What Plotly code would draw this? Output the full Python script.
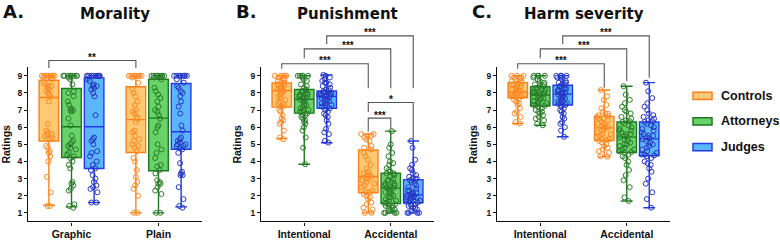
import plotly.graph_objects as go

# ---------------- data ----------------
GROUPS = ["Controls", "Attorneys", "Judges"]
PANEL_TITLES = ["Morality", "Punishment", "Harm severity"]
PANEL_LETTERS = ["A.", "B.", "C."]
CATS_MORALITY = ["Graphic", "Plain"]
CATS_PUNISHMENT = ["Intentional", "Accidental"]
CATS_HARM = ["Intentional", "Accidental"]
Y_TICKS = [1, 2, 3, 4, 5, 6, 7, 8, 9]

# box statistics, indexed [category][group]
MOR_MIN = [[1.44, 1.35, 1.6], [1.0, 1.0, 1.35]]
MOR_Q1 = [[5.19, 4.23, 3.59], [4.52, 3.46, 4.71]]
MOR_MED = [[7.73, 6.03, 6.03], [6.44, 6.53, 5.73]]
MOR_Q3 = [[8.74, 8.26, 8.88], [8.36, 8.8, 8.55]]
MOR_MAX = [[9.0, 9.0, 9.0], [9.0, 9.0, 9.0]]

PUN_MIN = [[5.34, 3.84, 5.09], [1.0, 1.0, 1.0]]
PUN_Q1 = [[7.17, 6.82, 7.11], [2.17, 1.54, 1.59]]
PUN_MED = [[8.14, 7.63, 7.8], [3.12, 2.44, 2.05]]
PUN_Q3 = [[8.59, 8.2, 8.11], [4.67, 3.31, 2.94]]
PUN_MAX = [[9.0, 9.0, 9.05], [5.61, 5.77, 5.19]]

HARM_MIN = [[6.22, 6.11, 5.44], [4.27, 1.69, 1.3]]
HARM_Q1 = [[7.72, 7.24, 7.3], [5.22, 4.52, 4.33]]
HARM_MED = [[8.06, 7.88, 7.93], [5.96, 5.42, 5.32]]
HARM_Q3 = [[8.6, 8.36, 8.45], [6.63, 6.3, 6.3]]
HARM_MAX = [[9.0, 9.0, 9.0], [8.17, 8.39, 8.6]]

# individual ratings
MOR_GRAPHIC_CONTROLS = [9, 9, 9, 9, 9, 9, 9, 9, 8.9, 8.8, 8.6, 8.5, 8.4, 8.4, 8.3, 8.2, 8.1, 8.0, 7.9, 7.8,
                        7.5, 6.2, 5.8, 5.7, 5.6, 5.6, 5.5, 5.4, 5.3, 5.3, 4.9, 4.8, 4.6, 4.5, 4.3, 4.0, 3.1, 2.2, 1.4, 1.4]
MOR_GRAPHIC_ATTORNEYS = [9, 9, 9, 9, 9, 9, 9, 9, 8.9, 8.8, 8.5, 8.1, 8.0, 7.8, 7.5, 7.3, 7.1, 7.0, 7.0, 6.9, 6.5, 6.1,
                         5.5, 5.2, 5.1, 5.0, 4.9, 4.8, 4.7, 4.5, 4.4, 4.3, 4.2, 4.0, 3.8, 3.6, 2.8, 2.7, 2.6, 2.4, 2.3, 1.5, 1.4, 1.3]
MOR_GRAPHIC_JUDGES = [9, 9, 9, 9, 9, 9, 9, 9, 9, 9, 8.8, 8.7, 8.5, 8.4, 8.4, 8.3, 8.2, 8.0, 7.8, 6.7,
                      5.4, 5.3, 5.2, 5.0, 4.6, 4.5, 4.3, 4.0, 3.8, 3.6, 3.5, 3.2, 3.0, 2.8, 2.6, 2.5, 2.4, 2.2, 1.6, 1.6]
MOR_PLAIN_CONTROLS = [9, 9, 9, 9, 9, 9, 9, 9, 8.9, 8.6, 8.2, 8.0, 7.8, 7.5, 7.3, 7.0, 6.9, 6.8, 6.6, 6.5,
                      6.3, 5.8, 5.7, 5.5, 5.3, 5.2, 5.0, 4.9, 4.8, 4.6, 4.2, 4.0, 3.5, 3.1, 2.8, 2.6, 2.4, 2.0, 1.0, 1.0]
MOR_PLAIN_ATTORNEYS = [9, 9, 9, 9, 9, 9, 9, 9, 8.9, 8.8, 8.3, 8.1, 7.9, 7.7, 7.5, 7.2, 7.0, 6.9, 6.7, 6.5,
                       6.1, 6.0, 5.7, 5.0, 4.7, 4.5, 4.2, 3.8, 3.7, 3.5, 3.3, 2.9, 2.8, 2.7, 2.7, 2.5, 2.3, 2.1, 1.0, 1.0]
MOR_PLAIN_JUDGES = [9, 9, 9, 9, 9, 9, 9, 9, 8.8, 8.6, 8.4, 8.3, 8.1, 8.0, 7.8, 7.5, 7.2, 6.8, 6.1, 5.8,
                    5.4, 5.3, 5.2, 5.1, 5.0, 5.0, 4.9, 4.9, 4.8, 4.7, 4.5, 3.9, 3.4, 3.3, 3.2, 3.2, 2.5, 1.8, 1.4, 1.3]

PUN_INT_CONTROLS = [9, 9, 9, 9, 8.9, 8.9, 8.8, 8.8, 8.7, 8.6, 8.5, 8.5, 8.4, 8.4, 8.3, 8.3, 8.2, 8.2, 8.1, 8.1,
                    8.0, 7.9, 7.8, 7.7, 7.6, 7.5, 7.4, 7.3, 7.2, 7.2, 7.0, 6.9, 6.7, 6.5, 6.4, 6.3, 6.2, 5.8, 5.4, 5.3]
PUN_INT_ATTORNEYS = [9, 9, 9, 9, 9, 8.9, 8.8, 8.7, 8.5, 8.4, 8.3, 8.2, 8.1, 8.1, 8.0, 8.0, 7.9, 7.9, 7.8, 7.8, 7.7, 7.7, 7.7, 7.65,
                     7.6, 7.5, 7.4, 7.3, 7.3, 7.2, 7.1, 7.0, 7.0, 6.9, 6.9, 6.8, 6.7, 6.7, 6.6, 6.5, 6.4, 6.3, 6.2, 6.0, 5.8, 5.4, 4.8, 3.84]
PUN_INT_JUDGES = [9.05, 9, 8.9, 8.8, 8.7, 8.6, 8.6, 8.5, 8.4, 8.3, 8.2, 8.15, 8.1, 8.05, 8.0, 8.0, 7.95, 7.9, 7.9, 7.85, 7.85, 7.8, 7.8, 7.8,
                  7.7, 7.6, 7.6, 7.5, 7.5, 7.4, 7.4, 7.3, 7.3, 7.2, 7.2, 7.1, 7.0, 6.9, 6.8, 6.7, 6.6, 6.4, 6.2, 5.9, 5.7, 5.6, 5.2, 5.1]
PUN_ACC_CONTROLS = [5.6, 5.6, 5.5, 5.5, 5.4, 5.3, 5.2, 4.9, 4.8, 4.7, 4.5, 4.3, 4.1, 3.8, 3.6, 3.4, 3.3, 3.2, 3.2, 3.1,
                    3.0, 3.0, 2.9, 2.8, 2.7, 2.6, 2.5, 2.3, 2.2, 2.2, 2.1, 2.0, 1.9, 1.8, 1.6, 1.5, 1.3, 1.2, 1.0, 1.0]
PUN_ACC_ATTORNEYS = [5.77, 5.0, 4.8, 4.5, 4.3, 4.0, 3.9, 3.8, 3.6, 3.5, 3.4, 3.3, 3.3, 3.2, 3.1, 3.0, 2.9, 2.9, 2.8, 2.7, 2.7, 2.6, 2.6, 2.5,
                     2.5, 2.45, 2.4, 2.3, 2.2, 2.2, 2.1, 2.0, 1.9, 1.9, 1.8, 1.7, 1.7, 1.6, 1.55, 1.5, 1.5, 1.4, 1.4, 1.3, 1.3, 1.2,
                     1.2, 1.1, 1.0, 1.0, 1.0, 1.0]
PUN_ACC_JUDGES = [5.19, 4.8, 4.1, 3.8, 3.6, 3.5, 3.3, 3.2, 3.1, 3.0, 3.0, 2.95, 2.9, 2.8, 2.7, 2.6, 2.5, 2.4, 2.3, 2.3, 2.2, 2.2, 2.1, 2.1,
                  2.0, 2.0, 1.95, 1.9, 1.9, 1.85, 1.8, 1.8, 1.7, 1.7, 1.65, 1.6, 1.5, 1.5, 1.4, 1.4, 1.3, 1.3, 1.2, 1.1, 1.0, 1.0, 1.0, 1.0]

HARM_INT_CONTROLS = [9, 9, 9, 8.9, 8.9, 8.8, 8.8, 8.7, 8.7, 8.6, 8.5, 8.5, 8.4, 8.4, 8.3, 8.3, 8.2, 8.2, 8.1, 8.1,
                     8.0, 8.0, 7.95, 7.9, 7.9, 7.85, 7.8, 7.8, 7.75, 7.7, 7.6, 7.5, 7.4, 7.3, 7.1, 6.9, 6.8, 6.6, 6.3, 6.22]
HARM_INT_ATTORNEYS = [9, 9, 9, 9, 8.9, 8.8, 8.7, 8.6, 8.5, 8.5, 8.4, 8.4, 8.3, 8.3, 8.2, 8.2, 8.1, 8.1, 8.0, 8.0, 8.0, 7.95, 7.9, 7.9,
                      7.8, 7.8, 7.7, 7.7, 7.6, 7.5, 7.5, 7.4, 7.4, 7.3, 7.3, 7.25, 7.2, 7.1, 7.0, 6.9, 6.9, 6.8, 6.7, 6.6, 6.5, 6.4, 6.2, 6.11]
HARM_INT_JUDGES = [9, 9, 9, 9, 8.9, 8.9, 8.8, 8.7, 8.6, 8.6, 8.5, 8.5, 8.4, 8.4, 8.3, 8.3, 8.2, 8.2, 8.1, 8.1, 8.0, 8.0, 7.95, 7.95,
                   7.9, 7.8, 7.8, 7.7, 7.7, 7.6, 7.5, 7.5, 7.4, 7.4, 7.35, 7.3, 7.2, 7.1, 7.0, 6.9, 6.8, 6.6, 6.5, 6.3, 6.2, 6.0, 5.8, 5.44]
HARM_ACC_CONTROLS = [8.17, 7.8, 7.6, 7.3, 7.1, 6.9, 6.8, 6.8, 6.7, 6.65, 6.6, 6.5, 6.5, 6.4, 6.3, 6.2, 6.2, 6.1, 6.0, 6.0,
                     5.9, 5.8, 5.7, 5.6, 5.6, 5.5, 5.4, 5.3, 5.3, 5.25, 5.2, 5.1, 5.0, 4.9, 4.8, 4.7, 4.6, 4.5, 4.3, 4.27]
HARM_ACC_ATTORNEYS = [8.39, 7.9, 7.6, 7.4, 7.2, 7.0, 6.9, 6.8, 6.6, 6.5, 6.4, 6.35, 6.3, 6.2, 6.1, 6.0, 5.9, 5.8, 5.8, 5.7, 5.6, 5.6, 5.5, 5.45,
                      5.4, 5.3, 5.2, 5.1, 5.0, 5.0, 4.9, 4.8, 4.7, 4.7, 4.6, 4.55, 4.5, 4.4, 4.3, 4.2, 4.0, 3.8, 3.5, 3.2, 2.9, 2.5, 1.9, 1.69]
HARM_ACC_JUDGES = [8.6, 8.1, 7.7, 7.4, 7.2, 7.0, 6.8, 6.7, 6.6, 6.5, 6.4, 6.35, 6.3, 6.2, 6.1, 6.0, 5.9, 5.8, 5.7, 5.6, 5.5, 5.5, 5.4, 5.35,
                   5.3, 5.2, 5.1, 5.0, 4.9, 4.8, 4.7, 4.6, 4.5, 4.4, 4.4, 4.35, 4.3, 4.2, 4.0, 3.9, 3.8, 3.6, 3.4, 3.0, 2.7, 2.2, 1.8, 1.3]

# significance comparisons: (cat_a, group_a, cat_b, group_b, label)
SIG_MORALITY = [(0, 0, 1, 0, "**")]
SIG_PUNISHMENT = [(0, 0, 1, 0, "***"), (0, 1, 1, 1, "***"), (0, 2, 1, 2, "***"),
                  (1, 0, 1, 1, "***"), (1, 0, 1, 2, "*")]
SIG_HARM = [(0, 0, 1, 0, "***"), (0, 1, 1, 1, "***"), (0, 2, 1, 2, "***")]

# ---------------- layout constants ----------------
W, H = 780, 240
X_DOM_PX = [(28, 202), (261, 434), (497, 670)]
Y_DOM_PX = (68.1, 224.2)
Y_RANGE = (0.5, 9.5)
OFFSETS = [-0.26, 0.0, 0.26]
BOX_W = 0.225
# bracket geometry in rating units: (bar level, left leg end, right leg end)
BRK_MORALITY = [(9.89, 9.46, 9.46)]
BRK_PUNISHMENT = [(9.70, 9.41, 8.28), (10.57, 10.03, 8.28), (11.33, 10.86, 8.28),
                  (6.53, 5.75, 5.88), (7.44, 6.88, 5.3)]
BRK_HARM = [(9.70, 9.41, 8.30), (10.57, 10.03, 8.70), (11.33, 10.86, 8.88)]

FILL = ["#FFC873", "#69D369", "#5CB6FF"]
EDGE = ["#FF7F1A", "#1E7A1E", "#1F3CE8"]
DOT = ["#FF8A24", "#2A7D2A", "#2637C4"]
INK = "#111111"
SANS = "Liberation Sans, Arial, sans-serif"
HEAVY = "DejaVu Sans, sans-serif"

panels = [
    dict(cats=CATS_MORALITY, mn=MOR_MIN, q1=MOR_Q1, med=MOR_MED, q3=MOR_Q3, mx=MOR_MAX,
         pts=[[MOR_GRAPHIC_CONTROLS, MOR_GRAPHIC_ATTORNEYS, MOR_GRAPHIC_JUDGES],
              [MOR_PLAIN_CONTROLS, MOR_PLAIN_ATTORNEYS, MOR_PLAIN_JUDGES]],
         sig=SIG_MORALITY, brk=BRK_MORALITY),
    dict(cats=CATS_PUNISHMENT, mn=PUN_MIN, q1=PUN_Q1, med=PUN_MED, q3=PUN_Q3, mx=PUN_MAX,
         pts=[[PUN_INT_CONTROLS, PUN_INT_ATTORNEYS, PUN_INT_JUDGES],
              [PUN_ACC_CONTROLS, PUN_ACC_ATTORNEYS, PUN_ACC_JUDGES]],
         sig=SIG_PUNISHMENT, brk=BRK_PUNISHMENT),
    dict(cats=CATS_HARM, mn=HARM_MIN, q1=HARM_Q1, med=HARM_MED, q3=HARM_Q3, mx=HARM_MAX,
         pts=[[HARM_INT_CONTROLS, HARM_INT_ATTORNEYS, HARM_INT_JUDGES],
              [HARM_ACC_CONTROLS, HARM_ACC_ATTORNEYS, HARM_ACC_JUDGES]],
         sig=SIG_HARM, brk=BRK_HARM),
]

fig = go.Figure()
layout = dict(width=W, height=H, margin=dict(l=0, r=0, t=0, b=0),
              paper_bgcolor="white", plot_bgcolor="white", showlegend=False,
              boxmode="overlay", shapes=[], annotations=[])


def dom_frac(v):
    return (v - Y_RANGE[0]) / (Y_RANGE[1] - Y_RANGE[0])


for p, pan in enumerate(panels):
    sfx = "" if p == 0 else str(p + 1)
    xa, ya = "x" + sfx, "y" + sfx
    for c in range(2):
        for g in range(3):
            pos = c + OFFSETS[g]
            fig.add_trace(go.Box(
                x=[pos], q1=[pan["q1"][c][g]], median=[pan["med"][c][g]], q3=[pan["q3"][c][g]],
                lowerfence=[pan["mn"][c][g]], upperfence=[pan["mx"][c][g]],
                width=BOX_W, whiskerwidth=0.6, fillcolor=FILL[g],
                line=dict(color=EDGE[g], width=1.4), boxpoints=False,
                xaxis=xa, yaxis=ya, name=GROUPS[g], hoverinfo="skip"))
            vals = pan["pts"][c][g]
            fig.add_trace(go.Box(
                x=[pos] * len(vals), y=vals, boxpoints="all", jitter=0.85, pointpos=0,
                width=BOX_W, fillcolor="rgba(0,0,0,0)",
                line=dict(color="rgba(0,0,0,0)", width=0),
                marker=dict(symbol="circle-open", size=5, color=DOT[g],
                            line=dict(width=1, color=DOT[g])),
                xaxis=xa, yaxis=ya, name=GROUPS[g], hoverinfo="skip"))

    x0, x1 = X_DOM_PX[p]
    layout["xaxis" + sfx] = dict(
        domain=[x0 / W, x1 / W], range=[-0.5, 1.5], anchor=ya,
        tickvals=[0, 1], ticktext=pan["cats"], showline=True, linecolor=INK, linewidth=1.3,
        ticks="outside", ticklen=3, tickwidth=1.3, tickcolor=INK,
        tickfont=dict(family=SANS, size=10.5, color=INK, weight="bold"),
        showgrid=False, zeroline=False, fixedrange=True)
    layout["yaxis" + sfx] = dict(
        domain=[1 - Y_DOM_PX[1] / H, 1 - Y_DOM_PX[0] / H], range=list(Y_RANGE), anchor=xa,
        tickvals=Y_TICKS, showline=True, linecolor=INK, linewidth=1.3,
        ticks="outside", ticklen=3, tickwidth=1.3, tickcolor=INK,
        tickfont=dict(family=SANS, size=8.5, color=INK, weight="bold"),
        title=dict(text="Ratings", font=dict(family=SANS, size=10.5, color=INK, weight="bold"), standoff=6),
        showgrid=False, zeroline=False, fixedrange=True)

    # panel title and letter
    layout["annotations"].append(dict(
        text=PANEL_TITLES[p], xref=xa + " domain", yref="paper", x=0.5, y=1 - 14 / H,
        xanchor="center", yanchor="middle", showarrow=False,
        font=dict(family=HEAVY, size=15, color=INK, weight="bold")))
    layout["annotations"].append(dict(
        text=PANEL_LETTERS[p], xref="paper", yref="paper", x=(x0 - 27) / W, y=1 - 11.5 / H,
        xanchor="left", yanchor="middle", showarrow=False,
        font=dict(family=HEAVY, size=18, color=INK, weight="bold")))

    # significance brackets
    for (ca, ga, cb, gb, lab), (lvl, la, lb) in zip(pan["sig"], pan["brk"]):
        xa_pos = ca + OFFSETS[ga]
        xb_pos = cb + OFFSETS[gb]
        yl, ya_end, yb_end = dom_frac(lvl), dom_frac(la), dom_frac(lb)
        layout["shapes"].append(dict(
            type="path", xref=xa, yref=ya + " domain",
            path=f"M {xa_pos},{ya_end} L {xa_pos},{yl} L {xb_pos},{yl} L {xb_pos},{yb_end}",
            line=dict(color="#555555", width=1.1)))
        layout["annotations"].append(dict(
            text=lab, xref=xa, yref=ya + " domain", x=(xa_pos + xb_pos) / 2, y=yl,
            xanchor="center", yanchor="middle", yshift=3, showarrow=False,
            font=dict(family=SANS, size=10, color=INK, weight="bold")))

# legend
LEG_Y_PX = [97, 123, 149]
for g in range(3):
    yc = LEG_Y_PX[g]
    layout["shapes"].append(dict(
        type="rect", xref="paper", yref="paper",
        x0=693 / W, x1=712 / W, y0=1 - (yc + 3.7) / H, y1=1 - (yc - 3.7) / H,
        fillcolor=FILL[g], line=dict(color=EDGE[g], width=1.5)))
    layout["annotations"].append(dict(
        text=GROUPS[g], xref="paper", yref="paper", x=719 / W, y=1 - yc / H,
        xanchor="left", yanchor="middle", showarrow=False,
        font=dict(family=SANS, size=12.5, color=INK, weight="bold")))

fig.update_layout(**layout)
fig.write_html("out.html", config={"displayModeBar": False},
               post_script="document.body.style.margin='0';document.body.style.overflow='hidden';")
